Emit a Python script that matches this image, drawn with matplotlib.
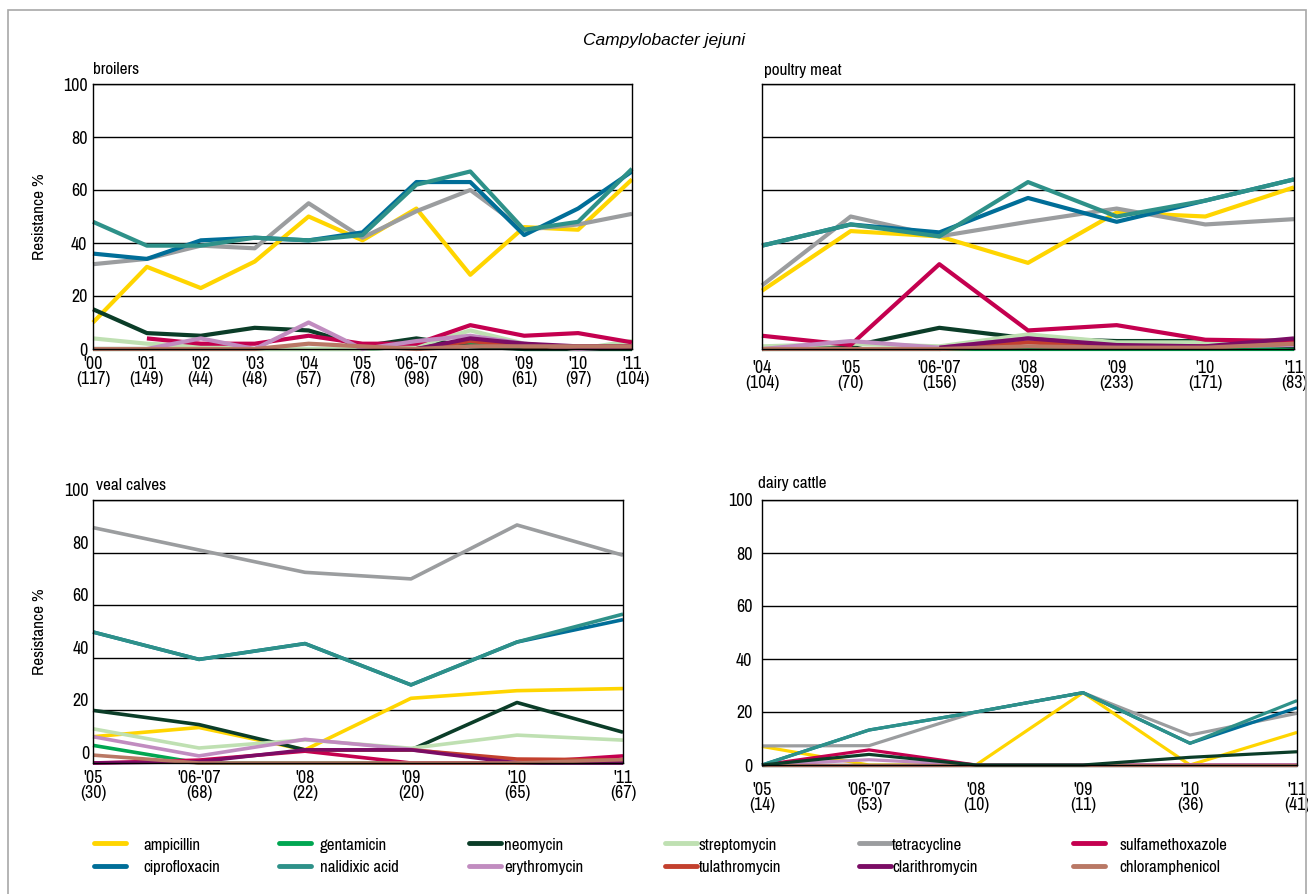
import numpy as np
import matplotlib
matplotlib.use("Agg")
import matplotlib.pyplot as plt
from matplotlib import font_manager
import matplotlib.transforms as mtransforms
from matplotlib.lines import Line2D
from matplotlib.patches import Rectangle

avail = {f.name for f in font_manager.fontManager.ttflist}
preferred = ['Liberation Sans Narrow', 'Arial Narrow', 'Pragati Narrow', 'Roboto Condensed',
             'Archivo Narrow', 'PT Sans Narrow']
FONT = next((p for p in preferred if p in avail), None)
if FONT:
    plt.rcParams['font.family'] = [FONT, 'DejaVu Sans']
    FS = 1.0
else:
    plt.rcParams['font.family'] = ['Liberation Sans', 'DejaVu Sans']
    FS = 0.85

nan = np.nan

antibiotics = ['ampicillin', 'gentamicin', 'neomycin', 'streptomycin', 'tetracycline',
               'sulfamethoxazole', 'ciprofloxacin', 'nalidixic acid', 'erythromycin',
               'tulathromycin', 'clarithromycin', 'chloramphenicol']
colors = ['#ffd500', '#00a651', '#0b3d28', '#bfe0b2', '#9b9d9f', '#c4004f',
          '#006e98', '#2e9189', '#c18cc0', '#c3402e', '#7b0c65', '#b97865']

# ---- broilers ----
broilers_years = ["'00", "'01", "'02", "'03", "'04", "'05", "'06-'07", "'08", "'09", "'10", "'11"]
broilers_n = [117, 149, 44, 48, 57, 78, 98, 90, 61, 97, 104]
broilers = {
    'ampicillin':       [10, 31, 23, 33, 50, 41, 53, 28, 46, 45, 64],
    'gentamicin':       [0, 0, 0, 0, 0, 0, 1, 2, 0, 0, 0],
    'neomycin':         [15, 6, 5, 8, 7, 1, 4, 1, 0, 0, 0],
    'streptomycin':     [4, 2, 1, 0, 0, 0, 1, 7, 2, 0, 3],
    'tetracycline':     [32, 34, 39, 38, 55, 42, 52, 60, 45, 47, 51],
    'sulfamethoxazole': [nan, 4, 2, 2, 5, 2, 2, 9, 5, 6, 2.5],
    'ciprofloxacin':    [36, 34, 41, 42, 41, 44, 63, 63, 43, 53, 67],
    'nalidixic acid':   [48, 39, 39, 42, 41, 43, 62, 67, 45, 48, 68],
    'erythromycin':     [nan, 0, 4, 0, 10, 0, 3, 5, 2, 0, 1],
    'tulathromycin':    [nan, nan, nan, nan, nan, nan, 0, 3, 1, 1, 1],
    'clarithromycin':   [nan, nan, nan, nan, nan, nan, 0, 4, 2, 1, 1],
    'chloramphenicol':  [0, 0, 0, 0, 2, 1, 0, 1, 1, 1, 1],
}

# ---- poultry meat ----
poultry_years = ["'04", "'05", "'06-'07", "'08", "'09", "'10", "'11"]
poultry_n = [104, 70, 156, 359, 233, 171, 83]
poultry = {
    'ampicillin':       [22, 44.5, 42.5, 32.5, 51.5, 50, 61],
    'gentamicin':       [0, 0, 0, 0, 0, 0, 0],
    'neomycin':         [0, 1, 8, 4, 3, 3, 1],
    'streptomycin':     [1, 2, 1, 5.5, 2.5, 2.5, 3.5],
    'tetracycline':     [24, 50, 42.5, 48, 53, 47, 49],
    'sulfamethoxazole': [5, 1.5, 32, 7, 9, 3.5, 3],
    'ciprofloxacin':    [39, 47, 44, 57, 48, 56, 64],
    'nalidixic acid':   [39, 47, 42.5, 63, 50, 56, 64],
    'erythromycin':     [0, 3, 0.5, 4, 1, 1, 1.5],
    'tulathromycin':    [nan, nan, 0, 2.5, 1, 1, 2],
    'clarithromycin':   [nan, nan, 0.5, 4, 1.5, 1, 4],
    'chloramphenicol':  [0, 0, 0, 1, 0.5, 0.5, 2],
}

# ---- veal calves ----
veal_years = ["'05", "'06-'07", "'08", "'09", "'10", "'11"]
veal_n = [30, 68, 22, 20, 65, 67]
veal = {
    'ampicillin':       [10, 13.5, 5, 24.6, 27.5, 28.3],
    'gentamicin':       [6.7, 0, 0, 0, 0, 0],
    'neomycin':         [20, 14.6, 5, 5, 23, 11.7],
    'streptomycin':     [13, 5.7, 8.8, 5.6, 10.6, 8.7],
    'tetracycline':     [89.5, 81, 72.5, 70, 90.5, 79],
    'sulfamethoxazole': [0, 1.1, 4.5, 0, 0, 2.7],
    'ciprofloxacin':    [49.8, 39.4, 45.4, 29.7, 46, 54.5],
    'nalidixic acid':   [49.8, 39.4, 45.4, 29.7, 46, 56.6],
    'erythromycin':     [10, 2.7, 9, 5.2, 0.5, 0],
    'tulathromycin':    [nan, nan, 5, 5, 1.5, 1.2],
    'clarithromycin':   [0, 0.5, 5, 5, 0, 0],
    'chloramphenicol':  [3, 0, 0, 0, 0, 1.3],
}

# ---- dairy cattle ----
dairy_years = ["'05", "'06-'07", "'08", "'09", "'10", "'11"]
dairy_n = [14, 53, 10, 11, 36, 41]
dairy = {
    'ampicillin':       [7, 0, 0, 27.3, 0, 12.3],
    'gentamicin':       [0, 0, 0, 0, 0, 0],
    'neomycin':         [0, 4, 0, 0, 2.9, 5],
    'streptomycin':     [0, 0, 0, 0, 0, 0],
    'tetracycline':     [7.2, 7.3, 20, 27.3, 11.3, 19.5],
    'sulfamethoxazole': [0, 5.7, 0, 0, 0, 0],
    'ciprofloxacin':    [0, 13.2, 20, 27.3, 8.2, 21.6],
    'nalidixic acid':   [0, 13.2, 20, 27.3, 8.2, 24.3],
    'erythromycin':     [0, 2, 0, 0, 0, 0],
    'tulathromycin':    [nan, nan, nan, nan, nan, nan],
    'clarithromycin':   [0, 0, 0, 0, 0, 0],
    'chloramphenicol':  [0, 0, 0, 0, 0, 0],
}

W, H = 1308, 894
fig = plt.figure(figsize=(W / 100, H / 100), dpi=100)


def rect(l, t, r, b):
    return [l / W, 1 - b / H, (r - l) / W, (b - t) / H]


# figure border
fig.patches.append(Rectangle((8 / W, -0.05), (1298) / W, 1.05 - 10 / H,
                             transform=fig.transFigure, fill=False,
                             edgecolor='#a8a8a8', linewidth=1.2))

fig.text(664 / W, 1 - 40 / H, 'Campylobacter jejuni', style='italic',
         family=['Liberation Sans', 'DejaVu Sans'],
         ha='center', va='center', fontsize=12.5)

TICK = 14 * FS
panels = [
    ('broilers', broilers_years, broilers_n, broilers, rect(93, 84, 632, 349), 3.0, 5, True, True, (93, 70)),
    ('poultry meat', poultry_years, poultry_n, poultry, rect(762, 84, 1294, 349), 3.0, 8, False, False, (764, 70)),
    ('veal calves', veal_years, veal_n, veal, rect(93, 500, 623, 763), 2.6, 5, True, True, (96, 486)),
    ('dairy cattle', dairy_years, dairy_n, dairy, rect(762, 500, 1297, 765), 2.3, 12, True, False, (758, 483)),
]

for name, years, ns, data, pos, lw, xpad, show_y, show_ylabel, tpos in panels:
    ax = fig.add_axes(pos)
    x = np.arange(len(years))
    for ab, col in zip(antibiotics, colors):
        z = 2
        if name == 'dairy cattle' and ab == 'neomycin':
            z = 2.5
        ax.plot(x, data[ab], color=col, linewidth=lw, solid_capstyle='butt',
                clip_on=False, zorder=z)
    ax.set_xlim(0, len(years) - 1)
    ax.set_ylim(0, 100)
    ax.set_yticks([0, 20, 40, 60, 80, 100])
    ax.grid(axis='y', color='black', linewidth=1.0, zorder=1)
    ax.set_axisbelow(True)
    for s in ax.spines.values():
        s.set_linewidth(1.0)
        s.set_color('black')
    ax.set_xticks(x)
    ax.set_xticklabels([f"{y}\n({n})" for y, n in zip(years, ns)], fontsize=TICK,
                       linespacing=0.95)
    ax.tick_params(axis='x', length=0, pad=xpad)
    if show_y and name != 'veal calves':
        ax.tick_params(axis='y', length=0, pad=4 if name == 'broilers' else 7,
                       labelsize=TICK)
    else:
        ax.tick_params(axis='y', length=0, labelleft=False)
        if name == 'veal calves':
            off = mtransforms.ScaledTranslation(-4 / 100, 9 / 100, fig.dpi_scale_trans)
            tr = ax.get_yaxis_transform() + off
            for v in [0, 20, 40, 60, 80, 100]:
                ax.text(0, v, str(v), transform=tr, ha='right', va='center',
                        fontsize=TICK)
    if show_ylabel:
        ax.set_ylabel('Resistance %', fontsize=13.5 * FS)
        ax.yaxis.set_label_coords(-0.086, 0.5)
    fig.text(tpos[0] / W, 1 - tpos[1] / H, name, ha='left', va='center', fontsize=13.5 * FS)

# legend in six columns of two rows
col_x = [93, 278, 468, 664, 858, 1072]
col_pad = [0.95, 0.5, 0.15, 0.1, 0.05, 0.8]
for c in range(6):
    idx = [c, c + 6]
    handles = [Line2D([], [], color=colors[i], linewidth=3.5, solid_capstyle='round') for i in idx]
    labels = [antibiotics[i] for i in idx]
    fig.legend(handles, labels, loc='center left',
               bbox_to_anchor=((col_x[c] + 1) / W, 1 - 856 / H),
               frameon=False, fontsize=13.2 * FS, handlelength=1.75,
               handletextpad=col_pad[c], labelspacing=0.35, borderpad=0, borderaxespad=0)

fig.savefig('out.png', dpi=100)
